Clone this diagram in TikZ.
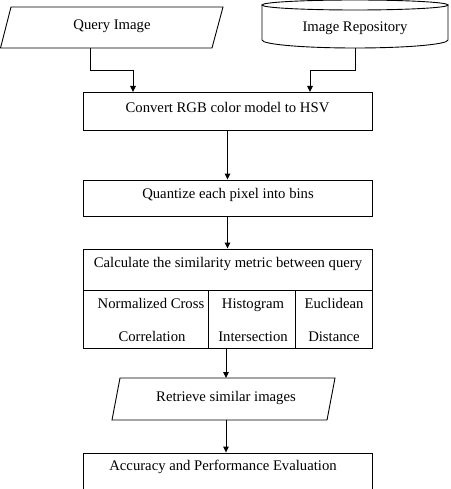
\documentclass[tikz,border=0pt]{standalone}
\usepackage{fontspec}
\setmainfont{Liberation Serif}
\usetikzlibrary{arrows.meta}
\begin{document}
\begin{tikzpicture}[x=1pt,y=-1pt,line width=0.9pt,
  box/.style={draw,rectangle,inner sep=0pt},
  lbl/.style={font=\fontsize{14.7}{17}\selectfont,inner sep=0pt,text height=1.6ex,text depth=0.45ex,yshift=-2.5pt},
  arr/.style={-{Triangle[length=6pt,width=5.5pt]}},
  outl/.style={draw,line width=0.9pt}]
\useasboundingbox (0,0) rectangle (450,489);
\clip (0,0) rectangle (450,489);
% Query image parallelogram
\draw[outl] (11,7) -- (223,7) -- (212,48) -- (0.5,48) -- cycle;
\node[lbl] (query) at (112,24) {Query Image};
\coordinate (queryB) at (90,48);
% Repository cylinder
\draw[outl] (262,5) -- (262,40) arc[start angle=180,end angle=360,x radius=93,y radius=-8] -- (448,5);
\draw[outl] (355,5) ellipse[x radius=93,y radius=5];
\node[lbl] (repo) at (355,26) {Image Repository};
\coordinate (repoB) at (355,48);
% Convert box
\node[box,minimum width=289pt,minimum height=38pt] (convert) at (227.5,111) {};
\node[lbl] (convertT) at (227.5,107) {Convert RGB color model to HSV};
% Quantize box
\node[box,minimum width=289pt,minimum height=36pt] (quant) at (227.5,198) {};
\node[lbl] (quantT) at (228,193) {Quantize each pixel into bins};
% Similarity box
\node[box,minimum width=289pt,minimum height=99pt] (sim) at (227.5,298.5) {};
\node[lbl] (simT) at (228,262) {Calculate the similarity metric between query};
\draw[outl] (83,290) -- (372,290);
\draw[outl] (208,290) -- (208,348);
\draw[outl] (295,290) -- (295,348);
\node[lbl] (ncc1) at (151,303) {Normalized Cross};
\node[lbl] (ncc2) at (152,336) {Correlation};
\node[lbl] (hi1) at (253,303) {Histogram};
\node[lbl] (hi2) at (253,336) {Intersection};
\node[lbl] (ed1) at (334,303) {Euclidean};
\node[lbl] (ed2) at (334,336) {Distance};
% Retrieve parallelogram
\draw[outl] (120,378) -- (335,378) -- (327,420) -- (112,420) -- cycle;
\node[lbl] (retr) at (226,396) {Retrieve similar images};
\coordinate (retrT) at (226,378);
\coordinate (retrB) at (226,420);
% Accuracy box
\node[box,minimum width=289pt,minimum height=50pt] (acc) at (227.5,478) {};
\node[lbl] (accT) at (223,465) {Accuracy and Performance Evaluation};
% connectors
\coordinate (cin1) at (133,92);
\coordinate (cin2) at (310,92);
\draw[arr] (queryB) |- (133,70) -- (cin1);
\draw[arr] (repoB) |- (310,70) -- (cin2);
\draw[arr] (convert.south) -- (quant.north);
\draw[arr] (quant.south) -- (sim.north);
\draw[arr] (sim.south -| retrT) -- (retrT);
\draw[arr] (retrB) -- (acc.north -| retrB);
\end{tikzpicture}
\end{document}
